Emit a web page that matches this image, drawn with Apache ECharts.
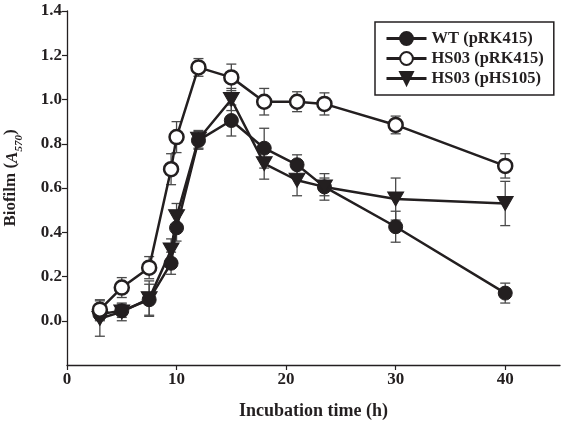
<!DOCTYPE html>
<html>
<head>
<meta charset="utf-8">
<script src="https://cdn.jsdelivr.net/npm/echarts@6/dist/echarts.min.js"></script>
<style>html,body{margin:0;padding:0;background:#fff;}#c{width:567px;height:422px;}</style>
</head>
<body>
<div id="c"></div>
<script>
var hours = [3, 5, 7.5, 9.5, 10, 12, 15, 18, 21, 23.5, 30, 40];
var wtValues   = [0.03, 0.045, 0.095, 0.26, 0.42, 0.815, 0.905, 0.78, 0.705, 0.605, 0.425, 0.125];
var wtErrors   = [0.03, 0.03, 0.07, 0.05, 0.06, 0.04, 0.07, 0.09, 0.045, 0.06, 0.07, 0.045];
var hsValues   = [0.05, 0.15, 0.24, 0.685, 0.83, 1.145, 1.10, 0.99, 0.99, 0.98, 0.885, 0.70];
var hsErrors   = [0.045, 0.045, 0.05, 0.07, 0.07, 0.04, 0.06, 0.06, 0.045, 0.05, 0.04, 0.055];
var compValues = [0.01, 0.04, 0.10, 0.32, 0.47, 0.82, 1.00, 0.71, 0.635, 0.605, 0.55, 0.53];
var compErrors = [0.08, 0.04, 0.08, 0.05, 0.06, 0.04, 0.05, 0.07, 0.07, 0.04, 0.095, 0.10];
var seriesNames = ['WT (pRK415)', 'HS03 (pRK415)', 'HS03 (pHS105)'];
var xTicks = [0, 10, 20, 30, 40];
var yTicks = [0, 0.2, 0.4, 0.6, 0.8, 1.0, 1.2, 1.4];

function pts(vals) { return hours.map(function (h, i) { return [h, vals[i]]; }); }
function errPts(vals, errs) { return hours.map(function (h, i) { return [h, vals[i], errs[i]]; }); }

var FONT = '"Liberation Serif", "Times New Roman", serif';
var INK = '#231f20';

function errorSeries(vals, errs) {
  return {
    type: 'custom',
    silent: true,
    z: 1,
    data: errPts(vals, errs),
    encode: { x: 0, y: 1 },
    renderItem: function (params, api) {
      var x = api.value(0), y = api.value(1), e = api.value(2);
      var hi = api.coord([x, y + e]);
      var lo = api.coord([x, y - e]);
      var w = 5;
      var st = { stroke: '#4a4a4a', lineWidth: 1.3 };
      return {
        type: 'group',
        children: [
          { type: 'line', shape: { x1: hi[0], y1: hi[1], x2: lo[0], y2: lo[1] }, style: st },
          { type: 'line', shape: { x1: hi[0] - w, y1: hi[1], x2: hi[0] + w, y2: hi[1] }, style: st },
          { type: 'line', shape: { x1: lo[0] - w, y1: lo[1], x2: lo[0] + w, y2: lo[1] }, style: st }
        ]
      };
    }
  };
}

var chart = echarts.init(document.getElementById('c'), null, { renderer: 'canvas' });
chart.setOption({
  animation: false,
  backgroundColor: '#fff',
  grid: { left: 67, right: 7, top: 11, bottom: 57, containLabel: false, outerBoundsMode: 'none' },
  legend: {
    orient: 'vertical',
    left: 375, top: 22,
    padding: [8, 10, 8, 10],
    itemGap: 3,
    itemWidth: 40, itemHeight: 16,
    itemTextGap: 7,
    borderColor: INK, borderWidth: 1.5,
    lineStyle: { width: 3 },
    textStyle: { fontFamily: FONT, fontWeight: 'bold', fontSize: 16.5, color: INK },
    data: seriesNames
  },
  xAxis: {
    type: 'value', min: 0, max: 45,
    name: 'Incubation time (h)', nameLocation: 'middle', nameGap: 37,
    nameTextStyle: { fontFamily: FONT, fontWeight: 'bold', fontSize: 18, color: INK },
    axisLine: { onZero: false, lineStyle: { color: INK, width: 1.3 } },
    axisTick: { show: true, inside: false, length: 5, lineStyle: { color: INK, width: 1.2 }, customValues: xTicks },
    axisLabel: { fontFamily: FONT, fontWeight: 'bold', fontSize: 17, color: INK, margin: 6, customValues: xTicks },
    splitLine: { show: false }
  },
  yAxis: {
    type: 'value', min: -0.2, max: 1.4,
    name: 'Biofilm ({i|A}{sub|570})', nameLocation: 'middle', nameGap: 46,
    nameTextStyle: {
      fontFamily: FONT, fontWeight: 'bold', fontSize: 17, color: INK,
      padding: [0, 0, 0, 20],
      rich: {
        i: { fontFamily: FONT, fontStyle: 'italic', fontSize: 17, color: INK, lineHeight: 20, verticalAlign: 'bottom' },
        sub: { fontFamily: FONT, fontStyle: 'italic', fontSize: 11, color: INK, lineHeight: 20, verticalAlign: 'bottom', padding: [0, 0, -4, 0] }
      }
    },
    axisLine: { show: true, onZero: false, lineStyle: { color: INK, width: 1.3 } },
    axisTick: { show: true, inside: false, length: 5, lineStyle: { color: INK, width: 1.2 }, customValues: yTicks },
    axisLabel: {
      fontFamily: FONT, fontWeight: 'bold', fontSize: 17, color: INK, margin: 5, customValues: yTicks,
      formatter: function (v) { return v.toFixed(1); }
    },
    splitLine: { show: false }
  },
  series: [
    errorSeries(wtValues, wtErrors),
    errorSeries(hsValues, hsErrors),
    errorSeries(compValues, compErrors),
    {
      name: seriesNames[0], type: 'line', z: 3, data: pts(wtValues),
      symbol: 'circle', symbolSize: 14,
      lineStyle: { color: INK, width: 2.5 },
      itemStyle: { color: INK, borderColor: INK, borderWidth: 1 }
    },
    {
      name: seriesNames[1], type: 'line', z: 4, data: pts(hsValues),
      symbol: 'circle', symbolSize: 14,
      lineStyle: { color: INK, width: 2.5 },
      itemStyle: { color: '#fff', borderColor: INK, borderWidth: 2.5 }
    },
    {
      name: seriesNames[2], type: 'line', z: 3, data: pts(compValues),
      symbol: 'triangle', symbolSize: [16, 14], symbolRotate: 180,
      lineStyle: { color: INK, width: 2.5 },
      itemStyle: { color: INK, borderColor: INK, borderWidth: 1 }
    }
  ]
});
</script>
</body>
</html>
